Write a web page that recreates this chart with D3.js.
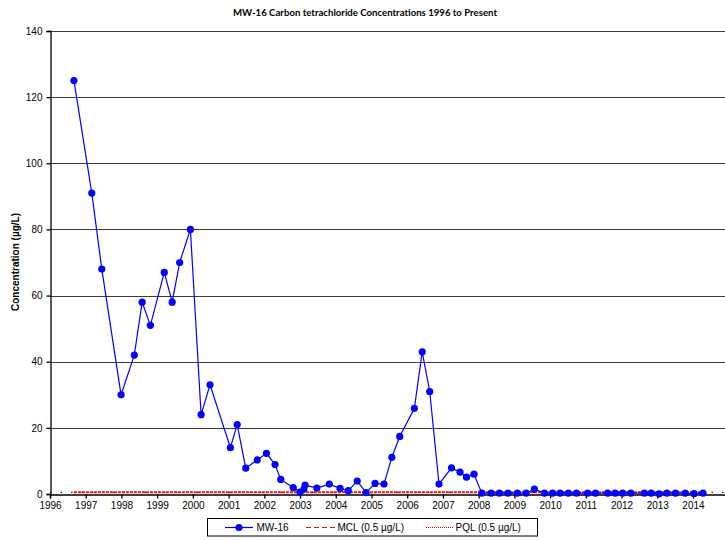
<!DOCTYPE html>
<html>
<head>
<meta charset="utf-8">
<script src="https://cdn.jsdelivr.net/npm/d3@7"></script>
<style>
  html, body { margin: 0; padding: 0; background: #fff; }
  svg { display: block; }
</style>
</head>
<body>
<svg id="chart" width="725" height="540"></svg>
<script>
const chartTitle = "MW-16 Carbon tetrachloride Concentrations 1996 to Present";
const yAxisTitle = "Concentration (µg/L)";
const yTicks = [0, 20, 40, 60, 80, 100, 120, 140];
const xTicks = [1996, 1997, 1998, 1999, 2000, 2001, 2002, 2003, 2004, 2005,
                2006, 2007, 2008, 2009, 2010, 2011, 2012, 2013, 2014];
// sample dates as decimal years
const sampleDates = [
  1996.67, 1997.17, 1997.45, 1997.99, 1998.36, 1998.58, 1998.81, 1999.20, 1999.42, 1999.63,
  1999.93, 2000.23, 2000.48, 2001.05, 2001.24, 2001.48, 2001.80, 2002.06, 2002.30, 2002.46,
  2002.81, 2003.00, 2003.11, 2003.14, 2003.47, 2003.82, 2004.12, 2004.35, 2004.60, 2004.85,
  2005.10, 2005.35, 2005.57, 2005.79, 2006.20, 2006.42, 2006.63, 2006.89, 2007.24, 2007.48,
  2007.66, 2007.87, 2008.09, 2008.35, 2008.58, 2008.82, 2009.08, 2009.33, 2009.56, 2009.84,
  2010.07, 2010.28, 2010.51, 2010.74, 2011.05, 2011.27, 2011.61, 2011.82, 2012.03, 2012.26,
  2012.64, 2012.83, 2013.05, 2013.27, 2013.51, 2013.78, 2014.03, 2014.28
];
const mw16Values = [
  125, 91, 68, 30, 42, 58, 51, 67, 58, 70,
  80, 24, 33, 14, 21, 7.8, 10.3, 12.3, 8.9, 4.4,
  1.9, 0.6, 1.5, 2.7, 1.8, 3.0, 1.7, 1.0, 3.9, 0.4,
  3.2, 3.0, 11.1, 17.4, 25.9, 43, 31, 3.0, 7.9, 6.6,
  5.1, 6.0, 0.25, 0.25, 0.25, 0.25, 0.25, 0.25, 1.5, 0.25,
  0.25, 0.25, 0.25, 0.25, 0.25, 0.25, 0.25, 0.25, 0.25, 0.25,
  0.25, 0.25, 0.05, 0.25, 0.25, 0.25, 0.1, 0.25
];
const mclValue = 0.5;
const pqlValue = 0.5;
const mclRange = [1996.67, 2014.28];
const pqlRange = [1996, 2015];
const legendLabels = ["MW-16", "MCL (0.5 µg/L)", "PQL (0.5 µg/L)"];

const svg = d3.select("#chart");
const plotLeft = 50, plotRight = 728.7, plotTop = 31, plotBottom = 494;

const x = d3.scaleLinear().domain([1996, 2015]).range([plotLeft, plotRight]);
const y = d3.scaleLinear().domain([0, 140]).range([plotBottom, plotTop]);

const font = "'Liberation Sans', Arial, sans-serif";

// title
svg.append("text")
  .attr("x", 365).attr("y", 16)
  .attr("text-anchor", "middle")
  .attr("font-family", "Lato, 'Liberation Sans', sans-serif")
  .attr("font-weight", "bold")
  .attr("font-size", 9)
  .attr("textLength", 264)
  .attr("lengthAdjust", "spacingAndGlyphs")
  .text(chartTitle);

// gridlines
svg.append("g")
  .selectAll("line")
  .data(yTicks.filter(d => d > 0))
  .join("line")
  .attr("x1", plotLeft).attr("x2", 725)
  .attr("y1", d => Math.round(y(d)) + 0.5)
  .attr("y2", d => Math.round(y(d)) + 0.5)
  .attr("stroke", "#3a3a3a")
  .attr("stroke-width", 1.2);

// y axis
const yAxis = svg.append("g")
  .attr("transform", `translate(${plotLeft + 0.5},0)`)
  .call(d3.axisLeft(y).tickValues(yTicks).tickSize(4).tickPadding(4).tickFormat(d3.format("d")));
yAxis.selectAll("text").attr("font-family", font).attr("font-size", 10).attr("fill", "#000");
yAxis.selectAll("line, path").attr("stroke", "#000").attr("stroke-width", 1.3);

// x axis
const xAxis = svg.append("g")
  .attr("transform", `translate(0,${plotBottom + 0.5})`)
  .call(d3.axisBottom(x).tickValues(xTicks).tickSize(4).tickPadding(3).tickFormat(d3.format("d")));
xAxis.selectAll("text").attr("font-family", font).attr("font-size", 10).attr("fill", "#000");
xAxis.selectAll("line, path").attr("stroke", "#000").attr("stroke-width", 1.3);

// y axis title
svg.append("text")
  .attr("transform", `translate(19,262) rotate(-90)`)
  .attr("text-anchor", "middle")
  .attr("font-family", font)
  .attr("font-weight", "bold")
  .attr("font-size", 10)
  .text(yAxisTitle);

// PQL line (dotted, dark red)
svg.append("line")
  .attr("x1", x(pqlRange[0])).attr("x2", x(pqlRange[1]))
  .attr("y1", y(pqlValue)).attr("y2", y(pqlValue))
  .attr("stroke", "#800000").attr("stroke-width", 1.2)
  .attr("stroke-dasharray", "1.5,9");

// MCL line (dashed red)
svg.append("line")
  .attr("x1", x(mclRange[0])).attr("x2", x(mclRange[1]))
  .attr("y1", y(mclValue)).attr("y2", y(mclValue))
  .attr("stroke", "#ff1010").attr("stroke-width", 2)
  .attr("stroke-dasharray", "3,1");

// MW-16 series
const pts = sampleDates.map((d, i) => [d, mw16Values[i]]);
svg.append("path")
  .datum(pts)
  .attr("fill", "none")
  .attr("stroke", "#0000ff")
  .attr("stroke-width", 1.2)
  .attr("d", d3.line().x(d => x(d[0])).y(d => y(d[1])));
svg.append("g")
  .selectAll("circle")
  .data(pts)
  .join("circle")
  .attr("cx", d => x(d[0]))
  .attr("cy", d => y(d[1]))
  .attr("r", 3.6)
  .attr("fill", "#0000ff");

// legend
const lg = svg.append("g");
lg.append("rect")
  .attr("x", 207.5).attr("y", 518.5).attr("width", 330).attr("height", 17.5)
  .attr("fill", "#fff").attr("stroke", "#000").attr("stroke-width", 1);
const ly = 527.5;
lg.append("line").attr("x1", 225).attr("x2", 253).attr("y1", ly).attr("y2", ly)
  .attr("stroke", "#0000ff").attr("stroke-width", 1.2);
lg.append("circle").attr("cx", 239).attr("cy", ly).attr("r", 3.6).attr("fill", "#0000ff");
lg.append("line").attr("x1", 306).attr("x2", 335).attr("y1", ly).attr("y2", ly)
  .attr("stroke", "#ff0000").attr("stroke-width", 1).attr("stroke-dasharray", "5,3");
lg.append("line").attr("x1", 426).attr("x2", 453).attr("y1", ly).attr("y2", ly)
  .attr("stroke", "#cc0000").attr("stroke-width", 1).attr("stroke-dasharray", "1,1");
const lx = [256.5, 337.5, 455.5];
lg.selectAll("text.lab")
  .data(legendLabels)
  .join("text")
  .attr("class", "lab")
  .attr("x", (d, i) => lx[i])
  .attr("y", ly + 3.6)
  .attr("font-family", font)
  .attr("font-size", 10)
  .text(d => d);
</script>
</body>
</html>
